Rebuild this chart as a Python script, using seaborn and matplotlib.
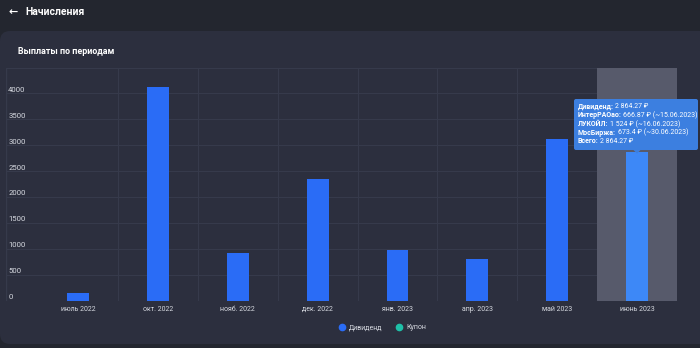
import matplotlib
matplotlib.use("Agg")
import matplotlib.pyplot as plt
import seaborn as sns
import pandas as pd
from matplotlib.patches import FancyBboxPatch, Polygon
from matplotlib.lines import Line2D
from matplotlib.transforms import ScaledTranslation

# ---- data ----
months = ["июль 2022", "окт. 2022", "нояб. 2022", "дек. 2022",
          "янв. 2023", "апр. 2023", "май 2023", "июнь 2023"]
dividends = [151, 4126, 912, 2342, 982, 802, 3127, 2864.27]
y_ticks = [0, 500, 1000, 1500, 2000, 2500, 3000, 3500, 4000]
legend_labels = ["Дивиденд", "Купон"]
tooltip_labels = ["Дивиденд:", "ИнтерРАОао:", "ЛУКОЙЛ:", "МосБиржа:", "Всего:"]
tooltip_values = ["2 864.27 ₽", "666.87 ₽ (~15.06.2023)", "1 524 ₽ (~16.06.2023)",
                  "673.4 ₽ (~30.06.2023)", "2 864.27 ₽"]
title = "Начисления"
subtitle = "Выплаты по периодам"

HEADER_BG = "#23262f"
CARD_BG = "#2c2f3e"
GRID = "#363a4b"
BAR = "#2a6cf6"
BAR_HI = "#3d88f7"
HILITE = "#575a6b"
TIP = "#3c7fe0"
TEAL = "#1ec0a8"
TXT = "#d6d9e0"

sns.set_theme(style="dark")
plt.rcParams["font.family"] = ["Roboto", "DejaVu Sans"]

fig = plt.figure(figsize=(7.0, 3.48), dpi=100)
fig.patch.set_facecolor(HEADER_BG)

# card
card = FancyBboxPatch((0.0, 0.04), 7.2, 3.13, boxstyle="round,pad=0,rounding_size=0.1",
                      transform=fig.dpi_scale_trans, facecolor=CARD_BG, edgecolor="none",
                      zorder=-5)
fig.patches.append(card)

fig.text(0.13, 3.36, "←", transform=fig.dpi_scale_trans, color="white",
         fontsize=8, fontweight="bold", va="center", ha="center",
         family=["DejaVu Sans"])
fig.text(0.25, 3.36, title, transform=fig.dpi_scale_trans, color="white",
         fontsize=7.5, fontweight="bold", va="center", ha="left")
fig.text(0.175, 2.96, subtitle, transform=fig.dpi_scale_trans, color="white",
         fontsize=6.4, fontweight="bold", va="center", ha="left")

ax = fig.add_axes([6 / 700, 1 - 300.5 / 348, 671 / 700, 232.9 / 348])
ax.set_zorder(1)
ax.set_facecolor(CARD_BG)

df = pd.DataFrame({"month": months, "value": dividends})
sns.barplot(data=df, x="month", y="value", color=BAR, width=0.275, ax=ax,
            saturation=1, zorder=3)
for p in ax.patches:
    p.set_edgecolor("none")
ax.patches[-1].set_facecolor(BAR_HI)

ax.set_xlim(-0.902, 7.5)
ax.set_ylim(0, 4500)
ax.axvspan(6.5, 7.5, color=HILITE, zorder=1, lw=0)

# grid
for v in y_ticks + [4500]:
    ax.axhline(v, color=GRID, lw=0.8, zorder=0.5)
for b in range(7):
    ax.axvline(b + 0.5, color=GRID, lw=0.8, zorder=0.5)
for s in ax.spines.values():
    s.set_visible(False)
ax.axvline(-0.902, color=GRID, lw=1.0, zorder=0.5)

ax.set_xlabel("")
ax.set_ylabel("")
ax.set_yticks(y_ticks)
ax.set_yticklabels([str(v) for v in y_ticks])
ax.tick_params(axis="y", length=0, pad=-1.6, labelsize=5.6, labelcolor=TXT)
off = ScaledTranslation(0, 4 / 100, fig.dpi_scale_trans)
for lab in ax.get_yticklabels():
    lab.set_horizontalalignment("left")
    lab.set_transform(lab.get_transform() + off)
    lab.set_zorder(5)
ax.tick_params(axis="x", length=0, pad=4, labelsize=5, labelcolor=TXT)
ax.grid(False)

# tooltip
tip = FancyBboxPatch((5.74, 1.98), 1.24, 0.51, boxstyle="round,pad=0,rounding_size=0.02",
                     transform=fig.dpi_scale_trans, facecolor=TIP, edgecolor="none",
                     zorder=10)
fig.patches.append(tip)
tri = Polygon([[6.33, 1.985], [6.41, 1.985], [6.37, 1.945]], closed=True,
              transform=fig.dpi_scale_trans, facecolor=TIP, edgecolor="none", zorder=10)
fig.patches.append(tri)

fig.canvas.draw()
renderer = fig.canvas.get_renderer()
ys = [2.41, 2.325, 2.24, 2.155, 2.07]
for lab, val, yy in zip(tooltip_labels, tooltip_values, ys):
    t = fig.text(5.78, yy, lab, transform=fig.dpi_scale_trans, color="white",
                 fontsize=5, fontweight="bold", va="center", ha="left", zorder=11)
    bb = t.get_window_extent(renderer)
    x2 = bb.x1 / fig.dpi + 0.015
    fig.text(x2, yy, val, transform=fig.dpi_scale_trans, color="white",
             fontsize=5, va="center", ha="left", zorder=11)

# legend
handles = [Line2D([], [], marker="o", ls="none", color=BAR, markersize=4.5),
           Line2D([], [], marker="o", ls="none", color=TEAL, markersize=4.5)]
leg = fig.legend(handles, legend_labels, loc="center", bbox_to_anchor=(0.546, 0.0575),
                 ncol=2, frameon=False, fontsize=5, handletextpad=0.5,
                 columnspacing=2.0, handlelength=1.0)
for t in leg.get_texts():
    t.set_color(TXT)

fig.savefig("out.png", dpi=100, facecolor=fig.get_facecolor())
